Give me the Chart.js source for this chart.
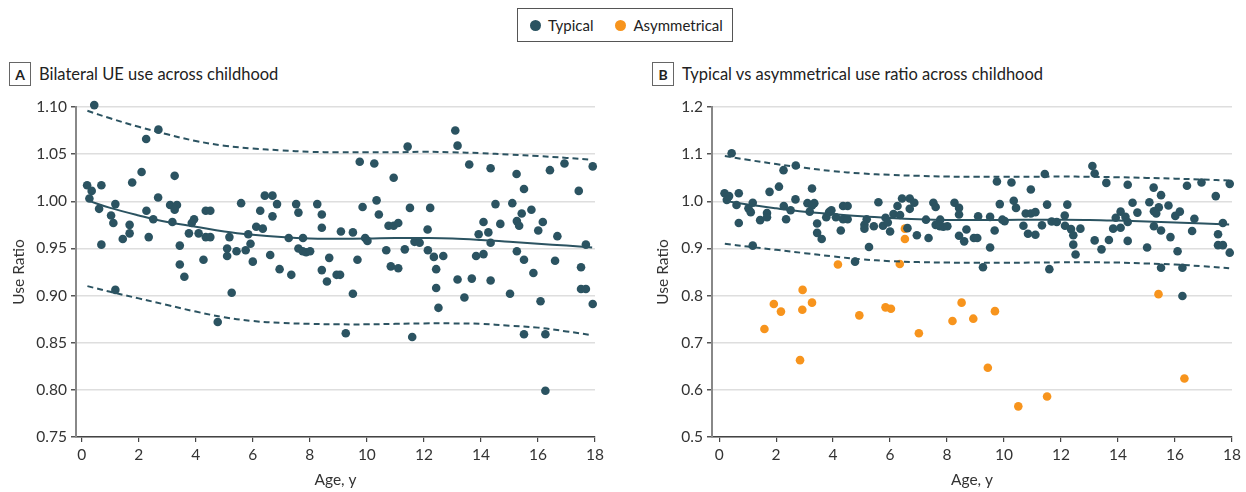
<!DOCTYPE html>
<html>
<head>
<meta charset="utf-8">
<script src="https://cdn.jsdelivr.net/npm/chart.js@4.4.1/dist/chart.umd.min.js"></script>
<style>
  body { margin: 0; width: 1246px; height: 492px; background: #fff; position: relative; overflow: hidden;
         font-family: Lato, "Open Sans", sans-serif; color: #222; }
  .legend { position: absolute; left: 517px; top: 8px; width: 214px; height: 32px; border: 1px solid #555;
            display: flex; align-items: center; font-size: 15px; box-sizing: content-box; }
  .legend .dot { width: 11px; height: 11px; border-radius: 50%; display: inline-block; margin: 0 7px 0 0; }
  .legend .item { display: flex; align-items: center; margin-left: 12px; }
  .panel-title { position: absolute; top: 62px; display: flex; align-items: center; font-size: 16.5px; }
  .panel-title .tag { width: 20px; height: 22px; border: 1px solid #666; display: flex; align-items: center;
                      justify-content: center; font-weight: bold; font-size: 14px; margin-right: 8px; }
  .wrap { position: absolute; top: 0; height: 492px; }
</style>
</head>
<body>
<div class="legend">
  <span class="item"><span class="dot" style="background:#2b5361"></span>Typical</span>
  <span class="item" style="margin-left:22px"><span class="dot" style="background:#f7941d"></span>Asymmetrical</span>
</div>
<div class="panel-title" style="left:9px"><span class="tag">A</span>Bilateral UE use across childhood</div>
<div class="panel-title" style="left:652px"><span class="tag">B</span>Typical vs asymmetrical use ratio across childhood</div>

<div class="wrap" style="left:0; width:623px"><canvas id="chartA"></canvas></div>
<div class="wrap" style="left:636px; width:610px"><canvas id="chartB"></canvas></div>

<script>
const teal = "#2b5361";
const orange = "#f7941d";

// typical children: [age, use ratio] (same points in both panels)
const typicalPoints = [
  [0.44, 1.102], [2.26, 1.066], [2.69, 1.076], [0.19, 1.017], [0.35, 1.011], [0.69, 1.017], [0.27, 1.003],
  [0.61, 0.992], [1.18, 0.997], [1.03, 0.985], [1.11, 0.977], [0.69, 0.954], [1.44, 0.960], [1.68, 0.975],
  [1.68, 0.966], [1.77, 1.020], [2.10, 1.031], [2.27, 0.990], [2.35, 0.962], [2.51, 0.981], [2.68, 1.004],
  [3.26, 1.027], [3.10, 0.996], [3.34, 0.996], [3.26, 0.991], [3.18, 0.978], [3.44, 0.953], [3.44, 0.933],
  [3.60, 0.920], [3.76, 0.966], [3.86, 0.977], [3.94, 0.981], [4.10, 0.966], [4.27, 0.938], [4.35, 0.990],
  [4.51, 0.990], [4.35, 0.962], [4.51, 0.962], [4.77, 0.872], [1.18, 0.906], [5.18, 0.962], [5.10, 0.950],
  [5.10, 0.942], [5.26, 0.903], [5.43, 0.947], [5.59, 0.998], [5.75, 0.948], [5.84, 0.965], [5.92, 0.955],
  [6.00, 0.936], [6.12, 0.973],
  [6.35, 0.971], [6.26, 0.990], [6.42, 1.006], [6.69, 1.006], [6.85, 0.997], [6.69, 0.984], [6.61, 0.943],
  [6.94, 0.928], [7.26, 0.961], [7.35, 0.922], [7.52, 0.997], [7.60, 0.988], [7.76, 0.961], [7.60, 0.950],
  [7.75, 0.947], [7.87, 0.946], [8.01, 0.947], [8.26, 0.997], [8.42, 0.986], [8.42, 0.972], [8.68, 0.940],
  [8.42, 0.927], [8.60, 0.915], [8.94, 0.922], [9.06, 0.922], [9.09, 0.968], [9.51, 0.967], [9.51, 0.902],
  [9.26, 0.860], [9.67, 0.938], [9.75, 1.042], [10.26, 1.040], [9.85, 0.994], [9.94, 0.961], [10.02, 0.958],
  [10.34, 1.001], [10.42, 0.986], [10.68, 0.948], [10.76, 0.974], [10.94, 0.974], [11.10, 0.977], [10.94, 1.025],
  [10.84, 0.931], [11.10, 0.929], [11.33, 0.949], [11.43, 1.058], [11.51, 0.993], [11.59, 0.856], [11.67, 0.957],
  [11.85, 0.956], [12.13, 0.970], [12.22, 0.993], [12.14, 0.948],
  [12.35, 0.941], [12.43, 0.928], [12.43, 0.908], [12.51, 0.887], [12.68, 0.942], [13.10, 1.075], [13.18, 1.059],
  [13.59, 1.039], [13.18, 0.917], [13.42, 0.898], [13.68, 0.918], [13.83, 0.942], [14.09, 0.944], [13.92, 0.965],
  [14.09, 0.978], [14.26, 0.967], [14.34, 0.956], [14.34, 1.035], [14.34, 0.916], [14.51, 0.997], [14.68, 0.976],
  [15.02, 0.902], [15.10, 0.998], [15.25, 1.029], [15.43, 0.987], [15.26, 0.979], [15.34, 0.974], [15.51, 1.013],
  [15.26, 0.947], [15.51, 0.938], [15.51, 0.859], [15.77, 0.991], [15.84, 0.924], [16.01, 0.969], [16.17, 0.978],
  [16.09, 0.894], [16.26, 0.859], [16.26, 0.799], [16.42, 1.033], [16.60, 0.937], [16.68, 0.963], [16.93, 1.040],
  [17.43, 1.011], [17.51, 0.930], [17.51, 0.907], [17.68, 0.907], [17.68, 0.954], [17.92, 1.037], [17.92, 0.891]
];

// asymmetrical children (panel B only)
const asymPoints = [
  [1.59, 0.729], [1.92, 0.782], [2.17, 0.766], [2.93, 0.812], [2.92, 0.770], [2.84, 0.663], [3.26, 0.785],
  [4.17, 0.866], [4.92, 0.758], [5.84, 0.775], [6.03, 0.772], [6.34, 0.867], [6.52, 0.942], [6.52, 0.920],
  [7.01, 0.720], [8.19, 0.746], [8.51, 0.785], [8.92, 0.751], [9.68, 0.767], [9.43, 0.647], [10.50, 0.565],
  [11.51, 0.586], [15.42, 0.803], [16.33, 0.624]
];

// fitted curve and its bounds
const fitAge   = [0.2, 1, 2, 3, 4, 5, 6, 7, 8, 9, 10, 11, 12, 13, 14, 15, 16, 17, 17.9];
const fitMid   = [1.001, 0.993, 0.985, 0.978, 0.973, 0.968, 0.9645, 0.962, 0.9605, 0.9603, 0.9605, 0.961, 0.961, 0.9605, 0.959, 0.957, 0.955, 0.953, 0.951];
const fitUpper = [1.096, 1.088, 1.079, 1.071, 1.064, 1.059, 1.056, 1.054, 1.0525, 1.052, 1.052, 1.052, 1.0525, 1.052, 1.051, 1.0495, 1.048, 1.046, 1.044];
const fitLower = [0.910, 0.904, 0.897, 0.890, 0.883, 0.877, 0.873, 0.871, 0.870, 0.8695, 0.8695, 0.870, 0.8705, 0.8705, 0.870, 0.868, 0.866, 0.862, 0.858];

const xTicks  = [0, 2, 4, 6, 8, 10, 12, 14, 16, 18];
const yTicksA = [0.75, 0.80, 0.85, 0.90, 0.95, 1.00, 1.05, 1.10];
const yTicksB = [0.5, 0.6, 0.7, 0.8, 0.9, 1.0, 1.1, 1.2];

const fontFamily = 'Lato, "Open Sans", sans-serif';

function toXY(pairs) {
    return pairs.map(p => ({ x: p[0], y: p[1] }));
}

function curve(values, dashed) {
    return {
        type: "line",
        data: fitAge.map((a, i) => ({ x: a, y: values[i] })),
        borderColor: teal,
        borderWidth: 2,
        borderDash: dashed ? [6, 4] : [],
        pointRadius: 0,
        tension: 0.4,
        fill: false
    };
}

function dots(pairs, color) {
    return {
        type: "scatter",
        data: toXY(pairs),
        backgroundColor: color,
        borderWidth: 0,
        pointRadius: 4.3,
        clip: false
    };
}

function makeChart(id, datasets, yTicks, decimals, xMin, rightPad, titlePad) {
    const ctx = document.getElementById(id).getContext("2d");
    return new Chart(ctx, {
        type: "scatter",
        data: { datasets: datasets },
        options: {
            responsive: true,
            maintainAspectRatio: false,
            animation: false,
            layout: { padding: { top: 107, right: rightPad, left: 0, bottom: 0 } },
            plugins: { legend: { display: false }, tooltip: { enabled: false } },
            scales: {
                x: {
                    type: "linear",
                    min: xMin,
                    max: 18,
                    afterBuildTicks: s => { s.ticks = xTicks.map(v => ({ value: v })); },
                    afterFit: s => { s.height = 55; },
                    grid: { drawOnChartArea: false, drawTicks: true, tickLength: 5, tickColor: "#444", lineWidth: 1.2 },
                    border: { color: "#444", width: 1.5 },
                    ticks: { color: "#333", padding: 4, font: { family: fontFamily, size: 15.5 } },
                    title: { display: true, text: "Age, y", color: "#333", padding: { top: 0, bottom: 3 },
                             font: { family: fontFamily, size: 15.5 } }
                },
                y: {
                    type: "linear",
                    min: yTicks[0],
                    max: yTicks[yTicks.length - 1],
                    afterBuildTicks: s => { s.ticks = yTicks.map(v => ({ value: v })); },
                    afterFit: s => { s.width = 76; },
                    grid: { color: "#dedede", lineWidth: 1.5, tickLength: 5, tickColor: "#555" },
                    border: { color: "#888", width: 2 },
                    ticks: { color: "#333", padding: 4, font: { family: fontFamily, size: 15.5 },
                             callback: v => v.toFixed(decimals) },
                    title: { display: true, text: "Use Ratio", color: "#333", padding: { top: titlePad, bottom: 0 },
                             font: { family: fontFamily, size: 15.5 } }
                }
            }
        }
    });
}

makeChart("chartA", [
    curve(fitMid, false), curve(fitUpper, true), curve(fitLower, true),
    dots(typicalPoints, teal)
], yTicksA, 2, -0.2, 28, 10);

makeChart("chartB", [
    curve(fitMid, false), curve(fitUpper, true), curve(fitLower, true),
    dots(typicalPoints, teal), dots(asymPoints, orange)
], yTicksB, 1, -0.25, 14, 18);
</script>
</body>
</html>
